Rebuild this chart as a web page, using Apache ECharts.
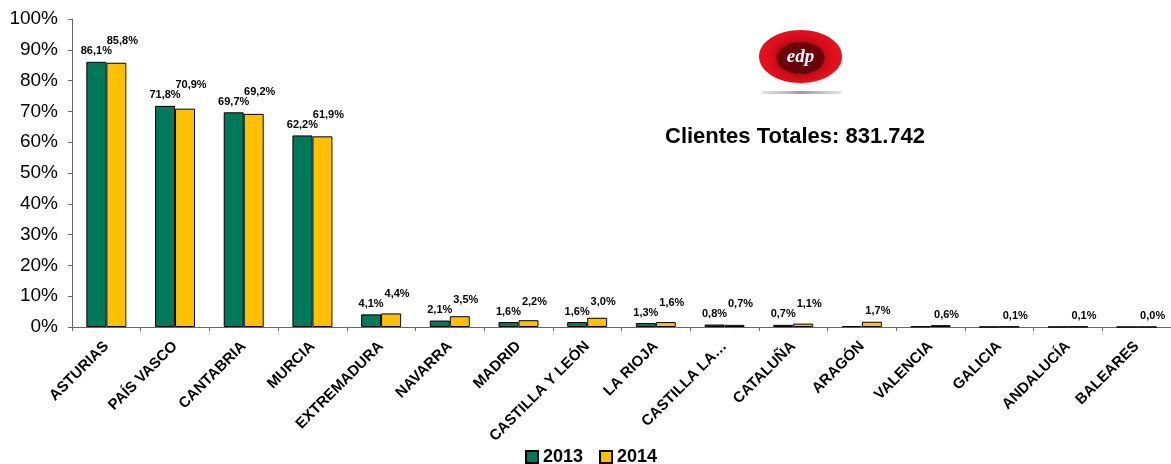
<!DOCTYPE html>
<html>
<head>
<meta charset="utf-8">
<script src="https://cdn.jsdelivr.net/npm/echarts@6/dist/echarts.min.js"></script>
<style>
  html, body { margin: 0; padding: 0; background: #fff; }
  #chart { width: 1171px; height: 464px; }
</style>
</head>
<body>
<div id="chart"></div>
<script>
// Penetración por comunidad autónoma (% de clientes)
const comunidades = ['ASTURIAS', 'PAÍS VASCO', 'CANTABRIA', 'MURCIA', 'EXTREMADURA', 'NAVARRA',
  'MADRID', 'CASTILLA Y LEÓN', 'LA RIOJA', 'CASTILLA LA…', 'CATALUÑA', 'ARAGÓN',
  'VALENCIA', 'GALICIA', 'ANDALUCÍA', 'BALEARES'];
const valores2013 = [86.1, 71.8, 69.7, 62.2, 4.1, 2.1, 1.6, 1.6, 1.3, 0.8, 0.7, 0.3, 0.2, 0.05, 0.05, 0.02];
const valores2014 = [85.8, 70.9, 69.2, 61.9, 4.4, 3.5, 2.2, 3.0, 1.6, 0.7, 1.1, 1.7, 0.6, 0.1, 0.1, 0.0];
// comunidades sin etiqueta de 2013
const sinEtiqueta2013 = ['ARAGÓN', 'VALENCIA', 'GALICIA', 'ANDALUCÍA', 'BALEARES'];
const ticksY = [0, 10, 20, 30, 40, 50, 60, 70, 80, 90, 100];
const titulo = 'Clientes Totales: 831.742';

const FONT = 'Liberation Sans, Arial, sans-serif';
const fmt = v => v.toFixed(1).replace('.', ',') + '%';
const muestra2013 = i => sinEtiqueta2013.indexOf(comunidades[i]) < 0;

const chart = echarts.init(document.getElementById('chart'), null, { renderer: 'canvas' });

const option = {
  animation: false,
  backgroundColor: '#ffffff',
  title: {
    text: titulo,
    left: 660,
    top: 121,
    textStyle: { fontFamily: FONT, fontSize: 22, fontWeight: 'bold', color: '#000' }
  },
  legend: {
    left: 520,
    top: 443,
    itemWidth: 12,
    itemHeight: 12,
    itemGap: 16,
    icon: 'rect',
    textStyle: { fontFamily: FONT, fontSize: 18, fontWeight: 'bold', color: '#000' }
  },
  grid: { left: 72, right: 0, top: 19, bottom: 137, containLabel: false },
  xAxis: {
    type: 'category',
    data: comunidades,
    axisLine: { show: true, lineStyle: { color: '#666', width: 1 } },
    axisTick: { show: true, length: 4, alignWithLabel: false, lineStyle: { color: '#666' } },
    axisLabel: {
      interval: 0,
      rotate: 45,
      margin: 17,
      fontFamily: FONT,
      fontSize: 15,
      fontWeight: 'bold',
      color: '#000'
    },
    splitLine: { show: false }
  },
  yAxis: {
    type: 'value',
    min: ticksY[0],
    max: ticksY[ticksY.length - 1],
    interval: ticksY[1] - ticksY[0],
    axisLine: { show: true, lineStyle: { color: '#666', width: 1 } },
    axisTick: { show: true, length: 4, lineStyle: { color: '#666' } },
    axisLabel: {
      formatter: '{value}%',
      margin: 14,
      fontFamily: FONT,
      fontSize: 19,
      color: '#000'
    },
    splitLine: { show: false }
  },
  series: [
    {
      name: '2013',
      type: 'bar',
      data: valores2013,
      barWidth: 20,
      barGap: '0%',
      itemStyle: { color: '#00785A', borderColor: '#000', borderWidth: 1 },
      label: {
        show: true,
        position: 'top',
        distance: 5,
        fontFamily: FONT,
        fontSize: 11,
        fontWeight: 'bold',
        color: '#000',
        formatter: p => muestra2013(p.dataIndex) ? fmt(p.value) : ''
      }
    },
    {
      name: '2014',
      type: 'bar',
      data: valores2014,
      barWidth: 20,
      itemStyle: { color: '#FFC000', borderColor: '#000', borderWidth: 1 },
      label: {
        show: true,
        position: 'top',
        distance: 5,
        fontFamily: FONT,
        fontSize: 11,
        fontWeight: 'bold',
        color: '#000',
        formatter: p => fmt(p.value)
      },
      // lift the 2014 label above the 2013 one when both sit at similar heights
      labelLayout: function (p) {
        const i = p.dataIndex;
        let dy = 0;
        if (muestra2013(i) && valores2014[i] > 0) {
          const base = p.rect.y + p.rect.height;
          const top14 = p.rect.y;
          const top13 = base - p.rect.height * valores2013[i] / valores2014[i];
          dy = Math.min(0, top13 - top14 - 10);
        }
        return { dx: 6, dy: dy };
      }
    }
  ],
  graphic: [
    // logotipo edp
    {
      type: 'group',
      left: 759,
      top: 30,
      children: [
        {
          type: 'rect',
          shape: { x: 3, y: 61, width: 80, height: 3 },
          style: {
            fill: {
              type: 'linear', x: 0, y: 0, x2: 1, y2: 0,
              colorStops: [
                { offset: 0, color: 'rgba(150,150,160,0.25)' },
                { offset: 0.5, color: 'rgba(130,130,140,0.8)' },
                { offset: 1, color: 'rgba(150,150,160,0.25)' }
              ]
            }
          }
        },
        {
          type: 'ellipse',
          shape: { cx: 42, cy: 26.5, rx: 41.5, ry: 26.5 },
          style: { fill: '#e3111c' }
        },
        {
          type: 'ellipse',
          shape: { cx: 42, cy: 28, rx: 24, ry: 16 },
          style: { fill: '#6a0008', shadowBlur: 14, shadowColor: '#8a0010' }
        },
        {
          type: 'text',
          x: 42,
          y: 27,
          style: {
            text: 'edp',
            fill: '#ffffff',
            font: 'italic bold 19px "Liberation Serif", serif',
            align: 'center',
            verticalAlign: 'middle'
          }
        }
      ]
    }
  ]
};

chart.setOption(option);
</script>
</body>
</html>
